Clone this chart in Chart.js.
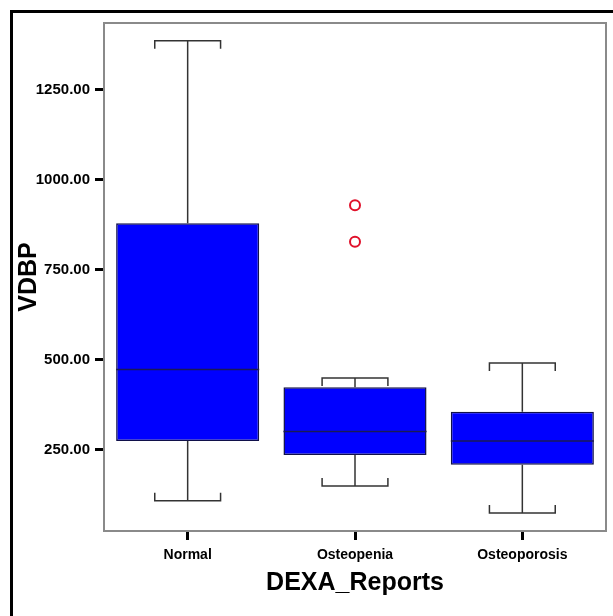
<!DOCTYPE html>
<html lang="en">
<head>
  <meta charset="UTF-8" />
  <title>VDBP by DEXA_Reports</title>
  <script src="https://cdn.jsdelivr.net/npm/chart.js"></script>
  <style>
    body { margin: 0; background: #fff; }
  </style>
</head>
<body>
  <canvas id="boxChart" width="613" height="616"></canvas>

  <script>
    // data
    const categories = ['Normal', 'Osteopenia', 'Osteoporosis'];
    const whiskerLow = [109, 150, 75];
    const q1 = [275, 236, 209];
    const median = [473, 301, 275];
    const q3 = [879, 424, 356];
    const whiskerHigh = [1386, 450, 491];
    const outliers = [
      { x: 'Osteopenia', y: 929 },
      { x: 'Osteopenia', y: 828 }
    ];
    const yTicks = [250, 500, 750, 1000, 1250];

    const font = "'Liberation Sans', Arial, sans-serif";

    // frame + whiskers + medians
    const boxPlugin = {
      id: 'boxParts',
      beforeDraw(chart) {
        const ctx = chart.ctx;
        ctx.save();
        ctx.fillStyle = '#000';
        ctx.fillRect(10, 10, 603, 3);
        ctx.fillRect(10, 10, 3, 606);
        ctx.restore();
      },
      afterDatasetsDraw(chart) {
        const ctx = chart.ctx;
        const xs = chart.scales.x, ys = chart.scales.y;
        const bars = chart.getDatasetMeta(0).data;
        const area = chart.chartArea;
        ctx.save();
        // plot border
        ctx.strokeStyle = '#8a8a8a';
        ctx.lineWidth = 2;
        ctx.strokeRect(area.left, area.top, area.right - area.left, area.bottom - area.top);

        categories.forEach((c, i) => {
          const x = xs.getPixelForValue(i);
          const half = bars[i].width / 2;
          const cap = half * 0.46;
          const yLo = ys.getPixelForValue(whiskerLow[i]);
          const yQ1 = ys.getPixelForValue(q1[i]);
          const yQ3 = ys.getPixelForValue(q3[i]);
          const yHi = ys.getPixelForValue(whiskerHigh[i]);
          const yMed = ys.getPixelForValue(median[i]);

          ctx.strokeStyle = '#333';
          ctx.lineWidth = 1.5;
          ctx.beginPath();
          // upper whisker
          ctx.moveTo(x, yQ3); ctx.lineTo(x, yHi);
          ctx.moveTo(x - cap, yHi + 8); ctx.lineTo(x - cap, yHi);
          ctx.lineTo(x + cap, yHi); ctx.lineTo(x + cap, yHi + 8);
          // lower whisker
          ctx.moveTo(x, yQ1); ctx.lineTo(x, yLo);
          ctx.moveTo(x - cap, yLo - 8); ctx.lineTo(x - cap, yLo);
          ctx.lineTo(x + cap, yLo); ctx.lineTo(x + cap, yLo - 8);
          ctx.stroke();

          // median
          ctx.strokeStyle = '#1a1a55';
          ctx.beginPath();
          ctx.moveTo(x - half, yMed); ctx.lineTo(x + half, yMed);
          ctx.stroke();
        });
        ctx.restore();
      }
    };

    new Chart(document.getElementById('boxChart'), {
      type: 'bar',
      data: {
        labels: categories,
        datasets: [{
          data: categories.map((c, i) => [q1[i], q3[i]]),
          backgroundColor: '#0000ff',
          borderColor: '#10104a',
          borderWidth: 1.5,
          borderSkipped: false,
          barPercentage: 0.855,
          categoryPercentage: 1.0
        }, {
          type: 'line',
          data: outliers,
          showLine: false,
          pointRadius: 5,
          pointBorderWidth: 2,
          pointBackgroundColor: 'rgba(0,0,0,0)',
          pointBorderColor: '#e0102a'
        }]
      },
      options: {
        responsive: false,
        animation: false,
        layout: { padding: { top: 23, right: 7, left: 0, bottom: 0 } },
        plugins: { legend: { display: false }, tooltip: { enabled: false } },
        scales: {
          x: {
            offset: true,
            grid: { offset: false, drawOnChartArea: false, tickLength: 9, tickWidth: 3, tickColor: '#000' },
            border: { display: false },
            ticks: { color: '#000', padding: 7, font: { family: font, size: 14, weight: 'bold' } },
            title: {
              display: true, text: 'DEXA_Reports', color: '#000',
              padding: { bottom: 18 },
              font: { family: font, size: 25, weight: 'bold' }
            },
            afterFit(scale) { scale.height = 85; }
          },
          y: {
            min: 25,
            max: 1435,
            afterBuildTicks(scale) { scale.ticks = yTicks.map(v => ({ value: v })); },
            grid: { drawOnChartArea: false, tickLength: 9, tickWidth: 3, tickColor: '#000' },
            border: { display: false },
            ticks: {
              color: '#000', padding: 5,
              font: { family: font, size: 15, weight: 'bold' },
              callback: v => Number(v).toFixed(2)
            },
            title: {
              display: true, text: 'VDBP', color: '#000',
              padding: { top: 14 },
              font: { family: font, size: 25, weight: 'bold' }
            },
            afterFit(scale) { scale.width = 104; }
          }
        }
      },
      plugins: [boxPlugin]
    });
  </script>
</body>
</html>
